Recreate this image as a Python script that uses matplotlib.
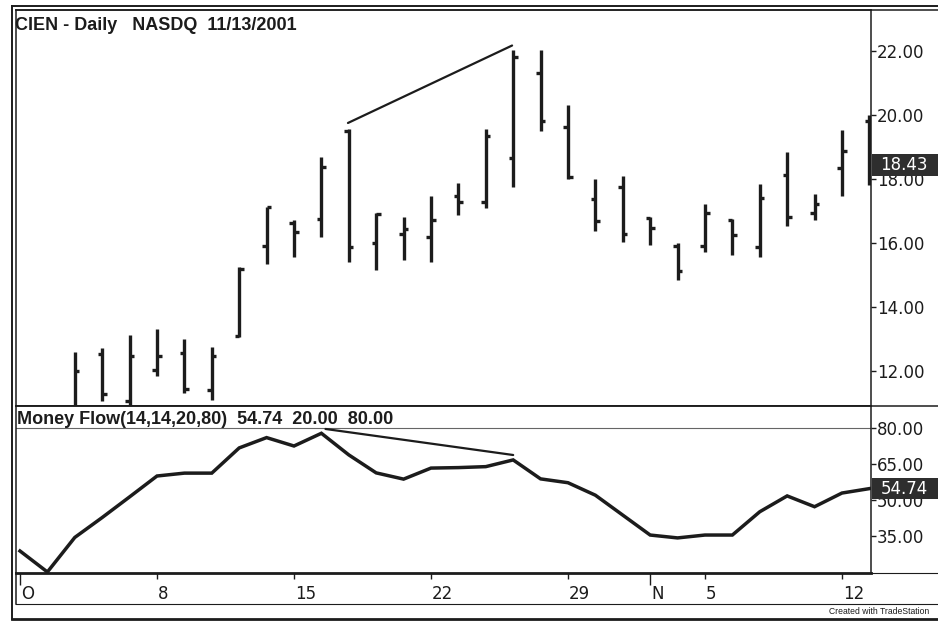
import matplotlib
matplotlib.use("Agg")
import matplotlib.pyplot as plt
import matplotlib.transforms as mtransforms
from matplotlib.lines import Line2D
from matplotlib.patches import Rectangle

# ---------------- data ----------------
# trading-day index (0 = Oct 1, 2001)
bar_idx = list(range(2, 32))
opens = [10.75, 12.53, 11.07, 12.03, 12.56, 11.41, 13.10, 15.90, 16.63, 16.74,
         19.50, 15.99, 16.28, 16.18, 17.47, 17.29, 18.65, 21.32, 19.63, 17.375,
         17.74, 16.77, 15.90, 15.92, 16.72, 15.88, 18.125, 16.93, 18.35, 19.80]
highs = [12.60, 12.72, 13.13, 13.31, 13.00, 12.75, 15.26, 17.13, 16.72, 18.70,
         19.55, 16.95, 16.81, 17.47, 17.88, 19.55, 22.03, 22.03, 20.31, 18.00,
         18.09, 16.82, 16.01, 17.22, 16.75, 17.84, 18.85, 17.52, 19.53, 20.00]
lows = [10.50, 11.07, 10.85, 11.85, 11.32, 11.09, 13.07, 15.34, 15.57, 16.20,
        15.42, 15.16, 15.47, 15.42, 16.875, 17.08, 17.76, 19.51, 17.99, 16.38,
        16.04, 15.94, 14.84, 15.73, 15.63, 15.57, 16.53, 16.72, 17.47, 17.81]
closes = [12.00, 11.28, 12.47, 12.47, 11.44, 12.47, 15.20, 17.12, 16.35, 18.37,
          15.87, 16.90, 16.44, 16.72, 17.29, 19.34, 21.82, 19.81, 18.05, 16.70,
          16.28, 16.48, 15.13, 16.95, 16.25, 17.42, 16.82, 17.22, 18.875, 18.43]

mf_idx = list(range(0, 32))
money_flow = [28.75, 20.0, 34.4, 42.7, 51.3, 60.0, 61.2, 61.2, 71.7, 76.0,
              72.5, 77.8, 68.8, 61.3, 58.7, 63.3, 63.5, 63.9, 66.7, 58.8,
              57.2, 52.0, 43.7, 35.4, 34.2, 35.4, 35.4, 45.1, 51.7, 47.2,
              52.9, 54.74]

price_trend_x = [11.97, 17.96]
price_trend_y = [19.75, 22.17]
mf_trend_x = [11.15, 18.0]
mf_trend_y = [79.6, 68.75]

month_ticks = [0, 23]
month_labels = ["O", "N"]
day_ticks = [5, 10, 15, 20, 25, 30]
day_labels = ["8", "15", "22", "29", "5", "12"]

price_ticks = [12, 14, 16, 18, 20, 22]
mf_ticks = [35, 50, 65, 80]

title_price = "CIEN - Daily   NASDQ  11/13/2001"
title_mf = "Money Flow(14,14,20,80)  54.74  20.00  80.00"

# ---------------- layout ----------------
W, H = 938, 621
INK = "#1c1c1c"
fig = plt.figure(figsize=(W / 100, H / 100), dpi=100)
fig.patch.set_facecolor("white")


def fx(px):
    return px / W


def fy(py):
    return 1 - py / H


ax1 = fig.add_axes([fx(16), fy(406), fx(871) - fx(16), fy(10) - fy(406)])
ax2 = fig.add_axes([fx(16), fy(573), fx(871) - fx(16), fy(406) - fy(573)])

xlim = (-0.146, 31.06)
for ax in (ax1, ax2):
    ax.set_xlim(*xlim)
    ax.set_facecolor("white")
    for s in ax.spines.values():
        s.set_color(INK)
        s.set_linewidth(1.1)

ax1.set_ylim(10.906, 23.28)
ax2.set_ylim(19.58, 89.17)
ax2.spines["bottom"].set_linewidth(2.0)

# ---------------- price bars ----------------
tick_w = 0.17
ax1.vlines(bar_idx, lows, highs, color=INK, lw=2.4)
ax1.hlines(opens, [i - tick_w for i in bar_idx], bar_idx, color=INK, lw=2.4)
ax1.hlines(closes, bar_idx, [i + tick_w for i in bar_idx], color=INK, lw=2.4)
ax1.plot(price_trend_x, price_trend_y, color=INK, lw=1.6, solid_capstyle="round")

# ---------------- money flow ----------------
ax2.axhline(80, color="#666666", lw=0.8)
ax2.plot(mf_idx, money_flow, color=INK, lw=2.5, solid_joinstyle="miter")
ax2.plot(mf_trend_x, mf_trend_y, color=INK, lw=1.6, solid_capstyle="round")

# ---------------- axes / ticks ----------------
tick_font = dict(family="DejaVu Sans", size=12)
for ax, ticks in ((ax1, price_ticks), (ax2, mf_ticks)):
    ax.yaxis.tick_right()
    ax.set_yticks(ticks)
    ax.set_yticklabels([f"{t:.2f}" for t in ticks], **tick_font, color=INK)
    ax.tick_params(axis="y", direction="out", length=3.6, width=1.0, pad=0.7, colors=INK)

ax1.set_xticks([])
ax2.set_xticks(month_ticks)
ax2.set_xticklabels(month_labels, **tick_font, color=INK)
ax2.set_xticks(day_ticks, minor=True)
ax2.set_xticklabels(day_labels, minor=True, **tick_font, color=INK)
ax2.tick_params(axis="x", which="major", direction="out", length=8.5, width=1.0, pad=0.3, colors=INK)
ax2.tick_params(axis="x", which="minor", direction="out", length=4.3, width=1.0, pad=4.5, colors=INK)
shift = mtransforms.ScaledTranslation(1 / 100, 0, fig.dpi_scale_trans)
for lab in ax2.get_xticklabels(which="both"):
    lab.set_horizontalalignment("left")
    lab.set_transform(lab.get_transform() + shift)

# ---------------- last-value boxes ----------------
for ax, val, h in ((ax1, closes[-1], 0.69), (ax2, money_flow[-1], 8.8)):
    tr = mtransforms.blended_transform_factory(ax.transAxes, ax.transData)
    ax.add_patch(Rectangle((1.001, val - h / 2), 0.1, h, transform=tr,
                           facecolor="#2e2e2e", edgecolor="none", clip_on=False, zorder=5))
    ax.text(1.011, val, f"{val:.2f}", transform=tr, color="white", va="center", ha="left",
            family="DejaVu Sans", size=12, zorder=6, clip_on=False)

# ---------------- titles ----------------
fig.text(fx(15), fy(25), title_price, family="Liberation Sans", weight="bold",
         size=13, color=INK, va="center", ha="left")
fig.text(fx(17), fy(419), title_mf, family="Liberation Sans", weight="bold",
         size=13, color=INK, va="center", ha="left")
fig.text(fx(829), fy(612), "Created with TradeStation", family="Liberation Sans",
         size=6.2, color=INK, va="center", ha="left")

# ---------------- outer frame ----------------
frame = [
    ([12, 12], [6, 619], 1.4),
    ([12, 938], [6, 6], 1.4),
    ([16, 938], [10, 10], 1.1),
    ([16, 938], [406, 406], 1.1),
    ([871, 938], [573, 573], 0.8),
    ([16, 938], [604, 604], 0.8),
    ([12, 938], [619, 619], 2.0),
    ([16, 16], [573, 604], 1.1),
]
for xs, ys, lw in frame:
    fig.add_artist(Line2D([fx(x) for x in xs], [fy(y) for y in ys],
                          transform=fig.transFigure, color=INK, lw=lw))

fig.savefig("out.png", dpi=100, facecolor="white")
